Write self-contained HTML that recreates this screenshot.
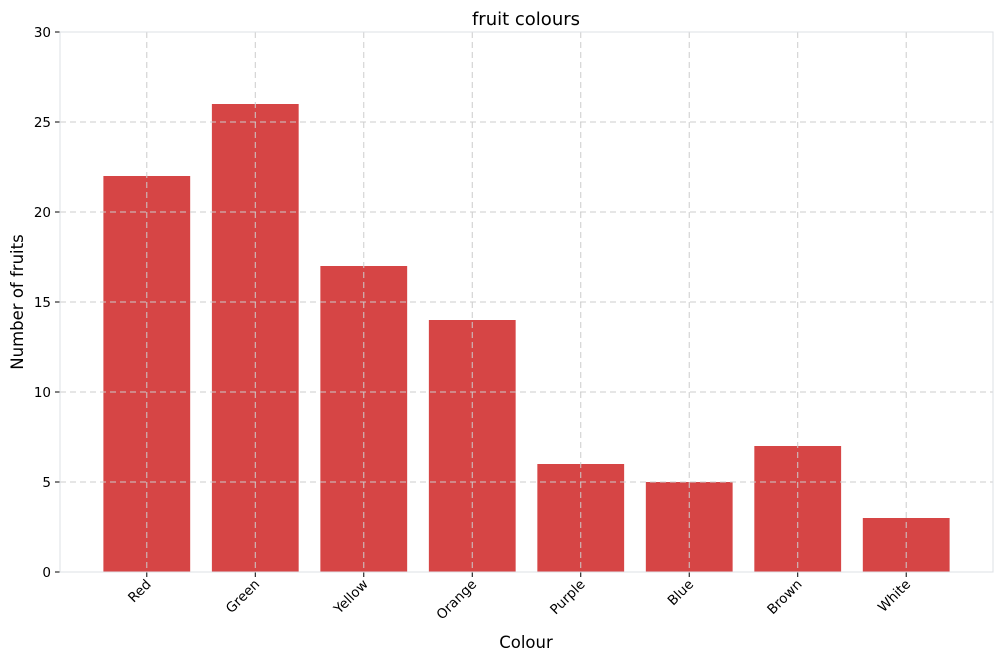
<!DOCTYPE html>
<html><head><meta charset="utf-8"><style>
body{margin:0;background:#fff;}
svg{display:block;font-family:"DejaVu Sans","Liberation Sans",sans-serif;}
</style></head><body>
<svg id="chart" width="1000" height="661">
<text x="526" y="25" text-anchor="middle" font-size="18">fruit colours</text>
<text x="526" y="648" text-anchor="middle" font-size="16.5">Colour</text>
<text transform="translate(23,302) rotate(-90)" text-anchor="middle" font-size="16.5">Number of fruits</text>
<g id="bars"></g><g id="grid"></g><g id="axes"></g>
</svg>
<script>
const categories=["Red","Green","Yellow","Orange","Purple","Blue","Brown","White"];
const values=[22,26,17,14,6,5,7,3];
const yTicks=[0,5,10,15,20,25,30];
const L=60,R=993,T=32,B=572;
const xs=i=>L+(i+0.8)*(R-L)/8.6;
const ys=v=>B-(v/30)*(B-T);
const NS="http://www.w3.org/2000/svg";
function mk(tag,attrs,parent){const e=document.createElementNS(NS,tag);for(const k in attrs)e.setAttribute(k,attrs[k]);parent.appendChild(e);return e;}
const bars=document.getElementById('bars'),grid=document.getElementById('grid'),axes=document.getElementById('axes');
const bw=0.8*(R-L)/8.6;
categories.forEach((c,i)=>{
 const r=mk('rect',{x:xs(i)-bw/2,y:ys(values[i]),width:bw,height:B-ys(values[i]),fill:'#d64545'},bars);
 
 
 const g=mk('line',{x1:xs(i),x2:xs(i),y1:T,y2:B,stroke:'#ccc','stroke-dasharray':'6,4','stroke-width':1},grid);
 
 
 const t=mk('line',{x1:xs(i),x2:xs(i),y1:B,y2:B+5,stroke:'#000'},axes);
 
 
 const lb=mk('text',{transform:`translate(${xs(i)+5},${B+13}) rotate(-45)`,'text-anchor':'end','font-size':13.5},axes);
 lb.textContent=c;
 
 
});
yTicks.forEach(v=>{
 const y=ys(v);
 if(v>0&&v<30){const g=mk('line',{x1:L,x2:R,y1:y,y2:y,stroke:'#ccc','stroke-dasharray':'6,4'},grid);
 
 }
 const t=mk('line',{x1:L-5,x2:L,y1:y,y2:y,stroke:'#000'},axes);
 
 
 const lb=mk('text',{x:L-9,y:y+5,'text-anchor':'end','font-size':13.5},axes);
 lb.textContent=v;
 
 
});
const fr=mk('rect',{x:L,y:T,width:R-L,height:B-T,fill:'none',stroke:'#dde0e6'},axes);


</script>
</body></html>
